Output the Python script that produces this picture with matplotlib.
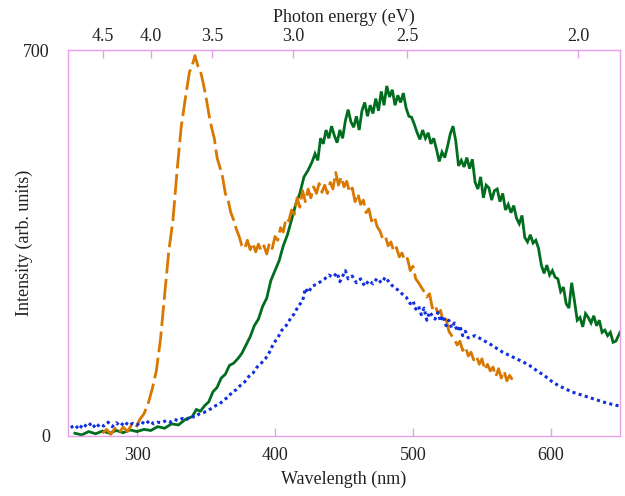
import matplotlib
matplotlib.use("Agg")
import matplotlib.pyplot as plt
import numpy as np

plt.rcParams['font.family'] = ['Liberation Serif', 'DejaVu Serif']

# orange dashed series (wavelength nm, intensity)
orange_wl = [275, 278, 281, 284, 287, 290, 293, 296, 299, 302, 305, 308, 311, 314, 317,
             320, 323, 326, 329, 332, 335, 338, 340, 342, 344, 346, 348, 350, 352, 354,
             356, 358, 360, 362, 364, 366, 368, 370, 372, 374, 376, 378, 380, 382, 384,
             386, 388, 390, 392, 394, 396, 398, 400, 402, 404, 406, 408, 410, 412, 414,
             416, 418, 420, 422, 424, 426, 428, 430, 432, 434, 436, 438, 440, 442, 444,
             446, 448, 450, 452, 454, 456, 458, 460, 462, 464, 466, 468, 470, 472, 474,
             476, 478, 480, 482, 484, 486, 488, 490, 492, 494, 496, 498, 500, 502, 504,
             506, 508, 510, 512, 514, 516, 518, 520, 522, 524, 526, 528, 530, 532, 534,
             536, 538, 540, 542, 544, 546, 548, 550, 552, 554, 556, 558, 560, 562, 564,
             566, 568, 570, 572]
orange_int = [5, 12, 3, 14, 6, 16, 8, 20, 14, 30, 40, 58, 85, 118, 175,
              255, 335, 390, 480, 560, 612, 660, 672, 690, 672, 662, 640, 615, 585, 560,
              540, 505, 488, 470, 440, 428, 405, 392, 375, 362, 345, 340, 355, 338, 350,
              334, 348, 336, 345, 330, 350, 340, 362, 355, 378, 370, 395, 390, 410, 402,
              432, 415, 445, 425, 448, 432, 452, 440, 458, 442, 455, 440, 460, 448, 478,
              455, 470, 452, 462, 442, 450, 425, 440, 420, 428, 405, 412, 390, 398, 380,
              372, 358, 362, 345, 352, 335, 342, 325, 332, 318, 322, 300, 308, 285, 278,
              270, 262, 252, 258, 232, 238, 222, 228, 205, 212, 190, 182, 175, 165, 172,
              155, 162, 145, 152, 138, 145, 130, 140, 120, 130, 118, 125, 108, 122, 105,
              118, 100, 110, 102]

# green solid series
green_wl = [255, 260, 265, 270, 275, 280, 285, 290, 295, 300, 305, 310, 315, 320, 325,
            330, 335, 340, 343, 346, 349, 352, 355, 358, 361, 364, 367, 370, 373, 376,
            379, 382, 385, 388, 391, 394, 397, 400, 403, 406, 409, 412, 415, 418, 421,
            424, 427, 429, 431, 433, 435, 437, 439, 441, 443, 445, 447, 449, 451, 453,
            455, 457, 459, 461, 463, 465, 467, 469, 471, 473, 475, 477, 479, 481, 483,
            485, 487, 489, 491, 493, 495, 497, 499, 501, 503, 505, 507, 509, 511, 513,
            515, 517, 519, 521, 523, 525, 527, 529, 531, 533, 535, 537, 539, 541, 543,
            545, 547, 549, 551, 553, 555, 557, 559, 561, 563, 565, 567, 569, 571, 573,
            575, 577, 579, 581, 583, 585, 587, 589, 591, 593, 595, 597, 599, 601, 603,
            605, 607, 609, 611, 613, 615, 617, 619, 621, 623, 625, 627, 629, 631, 633,
            635, 637, 639, 641, 643, 645, 647, 650]
green_int = [5, 2, 8, 4, 9, 5, 10, 6, 11, 8, 12, 10, 17, 14, 22,
             20, 30, 35, 48, 45, 55, 62, 80, 88, 105, 112, 128, 132, 140, 150,
             165, 180, 200, 212, 235, 250, 282, 300, 318, 345, 365, 392, 420, 440, 470,
             482, 498, 512, 500, 540, 530, 555, 540, 562, 545, 532, 555, 540, 572, 592,
             570, 560, 580, 555, 590, 605, 580, 600, 585, 612, 590, 625, 600, 635, 615,
             628, 600, 618, 605, 622, 595, 580, 578, 565, 550, 538, 555, 540, 550, 530,
             540, 520, 498, 515, 505, 525, 548, 562, 535, 490, 500, 488, 505, 485, 502,
             460, 448, 470, 432, 455, 450, 428, 445, 448, 425, 440, 410, 420, 405, 418,
             395, 385, 400, 360, 352, 365, 350, 355, 340, 310, 295, 310, 292, 300, 288,
             285, 262, 270, 240, 232, 278, 245, 210, 215, 198, 222, 215, 205, 218, 200,
             210, 188, 192, 182, 188, 170, 172, 188]

# blue dotted series
blue_wl = [252, 255, 258, 261, 264, 267, 270, 273, 276, 279, 282, 285, 288, 291, 294,
           297, 300, 303, 306, 309, 312, 315, 318, 321, 324, 327, 330, 333, 336, 339,
           342, 345, 348, 351, 354, 357, 360, 363, 366, 369, 372, 375, 378, 381, 384,
           387, 390, 393, 396, 399, 402, 405, 408, 411, 414, 417, 420, 422, 424, 427,
           430, 433, 436, 439, 442, 445, 447, 449, 451, 453, 456, 459, 462, 465, 468,
           471, 474, 477, 480, 483, 486, 489, 492, 495, 498, 500, 502, 504, 506, 508,
           510, 512, 514, 516, 518, 520, 522, 524, 526, 528, 530, 532, 534, 536, 538,
           540, 545, 550, 555, 560, 565, 570, 575, 580, 585, 590, 595, 600, 605, 610,
           615, 620, 625, 630, 635, 640, 645, 650]
blue_int = [15, 20, 12, 22, 16, 24, 14, 22, 18, 25, 17, 24, 18, 26, 19,
            23, 20, 26, 21, 28, 22, 25, 24, 28, 25, 30, 28, 32, 30, 36,
            34, 40, 42, 46, 50, 55, 58, 66, 70, 80, 84, 92, 98, 108, 114,
            125, 132, 140, 152, 168, 178, 192, 200, 212, 222, 236, 245, 268, 260, 272,
            275, 280, 285, 292, 288, 296, 280, 290, 300, 285, 290, 278, 285, 272, 282,
            276, 286, 278, 288, 278, 270, 265, 258, 252, 240, 245, 230, 236, 220, 232,
            210, 225, 218, 212, 224, 208, 218, 200, 210, 196, 205, 190, 200, 182, 190,
            178, 182, 175, 168, 160, 152, 146, 140, 134, 127, 118, 110, 100, 92, 86,
            80, 76, 72, 68, 64, 60, 57, 54]

x_ticks = [300, 400, 500, 600]
y_ticks = [0, 700]
energy_ticks = [4.5, 4.0, 3.5, 3.0, 2.5, 2.0]

spine_col = '#E8A0E8'
text_col = '#222222'


def wl_to_ev(w):
    w = np.asarray(w, dtype=float)
    return 1239.84 / np.where(w == 0, 1e-9, w)


def main():
    fig = plt.figure(figsize=(6.25, 4.96), dpi=100)
    ax = fig.add_axes([0.1088, 0.121, 0.8832, 0.778])

    ax.plot(green_wl, green_int, color='#006E1E', lw=2.0, solid_joinstyle='miter')
    ax.plot(orange_wl, orange_int, color='#D97800', lw=2.0, dashes=(7.5, 2.0))
    ax.plot(blue_wl, blue_int, color='#1030E0', lw=2.2, dashes=(1.0, 1.1))

    ax.set_xlim(250, 650)
    ax.set_ylim(0, 700)
    ax.set_xticks(x_ticks)
    ax.set_yticks(y_ticks)

    for s in ax.spines.values():
        s.set_color(spine_col)
        s.set_linewidth(1.0)

    ax.tick_params(axis='x', direction='in', length=6, width=1, color=spine_col,
                   labelsize=13, labelcolor=text_col, pad=8)
    ax.tick_params(axis='y', length=0, labelsize=13, labelcolor=text_col, pad=13)

    ax.set_xlabel('Wavelength (nm)', fontsize=13, color=text_col, labelpad=5)
    ax.set_ylabel('Intensity (arb. units)', fontsize=13, color=text_col, labelpad=-7)

    top = ax.secondary_xaxis('top', functions=(wl_to_ev, wl_to_ev))
    top.set_xticks(energy_ticks)
    top.set_xticklabels(['%.1f' % e for e in energy_ticks])
    top.tick_params(direction='in', length=6, width=1, color=spine_col,
                    labelsize=13, labelcolor=text_col, pad=4)
    top.spines['top'].set_color(spine_col)
    top.set_xlabel('Photon energy (eV)', fontsize=13, color=text_col, labelpad=4)

    fig.savefig('out.png', dpi=100)


if __name__ == "__main__":
    main()
